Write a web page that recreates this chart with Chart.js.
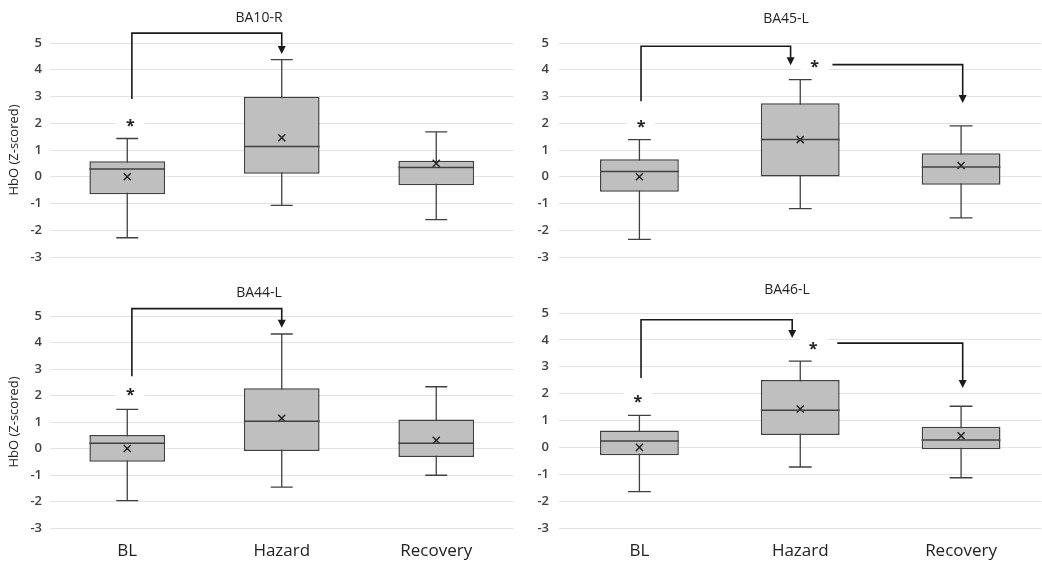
<!DOCTYPE html>
<html>
<head>
<meta charset="utf-8">
<script src="https://cdn.jsdelivr.net/npm/chart.js@4.4.1/dist/chart.umd.min.js"></script>
<style>
  html, body { margin: 0; padding: 0; background: #fff; overflow: hidden; }
  #wrap { position: relative; width: 1042px; height: 562px; overflow: hidden; }
  .panel { position: absolute; }
</style>
</head>
<body>
<div id="wrap">
  <div class="panel" style="left:0;top:0;width:520px;height:280px"><canvas id="c1"></canvas></div>
  <div class="panel" style="left:520px;top:0;width:528px;height:280px"><canvas id="c2"></canvas></div>
  <div class="panel" style="left:0;top:280px;width:520px;height:282px"><canvas id="c3"></canvas></div>
  <div class="panel" style="left:520px;top:280px;width:528px;height:282px"><canvas id="c4"></canvas></div>
</div>
<script>
const categories = ['BL', 'Hazard', 'Recovery'];
const yTicks = [5, 4, 3, 2, 1, 0, -1, -2, -3];

// BA10-R
const ba10Min = [-2.28, -1.07, -1.60];
const ba10Q1 = [-0.65, 0.11, -0.32];
const ba10Median = [0.29, 1.13, 0.35];
const ba10Q3 = [0.58, 2.99, 0.60];
const ba10Max = [1.43, 4.38, 1.68];
const ba10Mean = [0.0, 1.46, 0.50];

// BA45-L
const ba45Min = [-2.34, -1.19, -1.54];
const ba45Q1 = [-0.56, 0.01, -0.30];
const ba45Median = [0.20, 1.39, 0.36];
const ba45Q3 = [0.65, 2.75, 0.88];
const ba45Max = [1.39, 3.63, 1.90];
const ba45Mean = [0.0, 1.39, 0.42];

// BA44-L
const ba44Min = [-1.97, -1.46, -1.01];
const ba44Q1 = [-0.50, -0.09, -0.32];
const ba44Median = [0.20, 1.03, 0.20];
const ba44Q3 = [0.51, 2.27, 1.09];
const ba44Max = [1.48, 4.32, 2.33];
const ba44Mean = [0.0, 1.14, 0.31];

// BA46-L
const ba46Min = [-1.65, -0.73, -1.13];
const ba46Q1 = [-0.29, 0.46, -0.07];
const ba46Median = [0.24, 1.38, 0.27];
const ba46Q3 = [0.63, 2.51, 0.77];
const ba46Max = [1.19, 3.21, 1.53];
const ba46Mean = [0.0, 1.43, 0.43];

// significance brackets: x in category units, y in data units
const ba10Brackets = [{ x1: 0.03, y1: 2.91, yTop: 5.37, x2: 1.0, y2: 4.59 }];
const ba10Stars = [{ x: 0.02, y: 2.0 }];
const ba45Brackets = [
  { x1: 0.01, y1: 2.82, yTop: 4.88, x2: 0.94, y2: 4.17 },
  { x1: 1.2, y1: 4.19, yTop: 4.19, x2: 2.01, y2: 2.76 }
];
const ba45Stars = [{ x: 0.01, y: 1.95 }, { x: 1.09, y: 4.2 }];
const ba44Brackets = [{ x1: 0.03, y1: 2.73, yTop: 5.28, x2: 1.0, y2: 4.56 }];
const ba44Stars = [{ x: 0.02, y: 2.1 }];
const ba46Brackets = [
  { x1: 0.01, y1: 2.58, yTop: 4.75, x2: 0.95, y2: 4.07 },
  { x1: 1.23, y1: 3.88, yTop: 3.88, x2: 2.01, y2: 2.21 }
];
const ba46Stars = [{ x: -0.01, y: 1.77 }, { x: 1.08, y: 3.75 }];

const FONT = "'Open Sans', 'Noto Sans', sans-serif";
const INK = '#404040';

const boxPlugin = {
  id: 'boxParts',
  beforeDatasetsDraw(chart, args, opts) {
    const { ctx, scales: { x, y } } = chart;
    const bar = chart.getDatasetMeta(0).data;
    ctx.save();
    ctx.strokeStyle = INK;
    ctx.lineWidth = 1.3;
    opts.min.forEach((v, i) => {
      const cx = x.getPixelForValue(i);
      const half = bar[i].width * 0.145;
      ctx.beginPath();
      ctx.moveTo(cx, y.getPixelForValue(opts.max[i]));
      ctx.lineTo(cx, y.getPixelForValue(opts.min[i]));
      [opts.max[i], opts.min[i]].forEach(w => {
        const py = y.getPixelForValue(w);
        ctx.moveTo(cx - half, py);
        ctx.lineTo(cx + half, py);
      });
      ctx.stroke();
    });
    ctx.restore();
  },
  afterDatasetsDraw(chart, args, opts) {
    const { ctx, scales: { y } } = chart;
    const bar = chart.getDatasetMeta(0).data;
    ctx.save();
    ctx.strokeStyle = INK;
    ctx.lineWidth = 1.5;
    opts.median.forEach((m, i) => {
      const b = bar[i];
      const py = y.getPixelForValue(m);
      ctx.beginPath();
      ctx.moveTo(b.x - b.width / 2, py);
      ctx.lineTo(b.x + b.width / 2, py);
      ctx.stroke();
    });
    ctx.restore();
  },
  afterDraw(chart, args, opts) {
    const { ctx, scales: { x, y } } = chart;
    ctx.save();
    // stars with white backing that breaks the grid line
    opts.stars.forEach(s => {
      const px = x.getPixelForValue(s.x);
      const py = y.getPixelForValue(s.y);
      ctx.fillStyle = '#fff';
      ctx.fillRect(px - 14, py - 8, 28, 16);
      ctx.fillStyle = '#222';
      ctx.font = 'bold 16px ' + FONT;
      ctx.textAlign = 'center';
      ctx.textBaseline = 'middle';
      ctx.fillText('*', px, py + 3);
    });
    ctx.strokeStyle = '#1a1a1a';
    ctx.fillStyle = '#1a1a1a';
    ctx.lineWidth = 1.6;
    opts.brackets.forEach(b => {
      const x1 = x.getPixelForValue(b.x1);
      const x2 = x.getPixelForValue(b.x2);
      const y1 = y.getPixelForValue(b.y1);
      const yt = y.getPixelForValue(b.yTop);
      const y2 = y.getPixelForValue(b.y2);
      ctx.beginPath();
      ctx.moveTo(x1, y1);
      ctx.lineTo(x1, yt);
      ctx.lineTo(x2, yt);
      ctx.lineTo(x2, y2 - 6);
      ctx.stroke();
      ctx.beginPath();
      ctx.moveTo(x2 - 4, y2 - 8);
      ctx.lineTo(x2 + 4, y2 - 8);
      ctx.lineTo(x2, y2);
      ctx.closePath();
      ctx.fill();
    });
    // panel title
    ctx.fillStyle = '#222';
    ctx.font = '14px ' + FONT;
    ctx.textAlign = 'center';
    ctx.textBaseline = 'middle';
    ctx.fillText(opts.title, opts.titleX, opts.titleY);
    ctx.restore();
  }
};

function buildPanel(id, cfg) {
  const ctx = document.getElementById(id);
  return new Chart(ctx, {
    type: 'bar',
    data: {
      labels: categories,
      datasets: [
        {
          label: 'IQR',
          data: cfg.q1.map((q, i) => [q, cfg.q3[i]]),
          backgroundColor: '#bfbfbf',
          borderColor: INK,
          borderWidth: 1.5,
          borderSkipped: false,
          barPercentage: 0.49,
          categoryPercentage: 1,
          order: 2
        },
        {
          type: 'line',
          label: 'Mean',
          data: cfg.mean,
          showLine: false,
          pointStyle: 'crossRot',
          pointRadius: 5,
          borderColor: '#222',
          borderWidth: 1.5,
          order: 1
        }
      ]
    },
    options: {
      responsive: true,
      maintainAspectRatio: false,
      animation: false,
      layout: {
        padding: { top: cfg.top, right: cfg.right, left: 0, bottom: 0 }
      },
      plugins: {
        legend: { display: false },
        tooltip: { enabled: false },
        boxParts: {
          min: cfg.min,
          max: cfg.max,
          median: cfg.median,
          brackets: cfg.brackets,
          stars: cfg.stars,
          title: cfg.title,
          titleX: cfg.titleX,
          titleY: cfg.titleY
        }
      },
      scales: {
        x: {
          offset: true,
          grid: { display: false, drawTicks: false },
          border: { display: false },
          ticks: {
            display: cfg.showX,
            padding: 13,
            color: '#222',
            font: { family: FONT, size: 17 }
          },
          afterFit: s => { s.height = cfg.xHeight; }
        },
        y: {
          min: -3,
          max: 5,
          afterBuildTicks: s => { s.ticks = yTicks.map(v => ({ value: v })); },
          grid: { color: '#e3e3e3', lineWidth: 1, drawTicks: false },
          border: { display: false },
          ticks: {
            padding: cfg.tickPad,
            color: INK,
            font: { family: FONT, size: 13, weight: '600' }
          },
          title: {
            display: cfg.yTitle,
            text: 'HbO (Z-scored)',
            color: '#222',
            font: { family: FONT, size: 13 },
            padding: { top: 6, bottom: 0 }
          },
          afterFit: s => { s.width = cfg.yWidth; }
        }
      }
    },
    plugins: [boxPlugin]
  });
}

buildPanel('c1', {
  min: ba10Min, q1: ba10Q1, median: ba10Median, q3: ba10Q3, max: ba10Max, mean: ba10Mean,
  brackets: ba10Brackets, stars: ba10Stars, title: 'BA10-R', titleX: 259, titleY: 18,
  top: 43, right: 0, xHeight: 23, showX: false, yWidth: 50, tickPad: 8, yTitle: true
});
buildPanel('c2', {
  min: ba45Min, q1: ba45Q1, median: ba45Median, q3: ba45Q3, max: ba45Max, mean: ba45Mean,
  brackets: ba45Brackets, stars: ba45Stars, title: 'BA45-L', titleX: 266, titleY: 19,
  top: 43, right: 0, xHeight: 23, showX: false, yWidth: 39, tickPad: 10, yTitle: false
});
buildPanel('c3', {
  min: ba44Min, q1: ba44Q1, median: ba44Median, q3: ba44Q3, max: ba44Max, mean: ba44Mean,
  brackets: ba44Brackets, stars: ba44Stars, title: 'BA44-L', titleX: 259, titleY: 13,
  top: 36, right: 0, xHeight: 34, showX: true, yWidth: 50, tickPad: 8, yTitle: true
});
buildPanel('c4', {
  min: ba46Min, q1: ba46Q1, median: ba46Median, q3: ba46Q3, max: ba46Max, mean: ba46Mean,
  brackets: ba46Brackets, stars: ba46Stars, title: 'BA46-L', titleX: 267, titleY: 10,
  top: 33, right: 0, xHeight: 34, showX: true, yWidth: 39, tickPad: 10, yTitle: false
});
</script>
</body>
</html>
